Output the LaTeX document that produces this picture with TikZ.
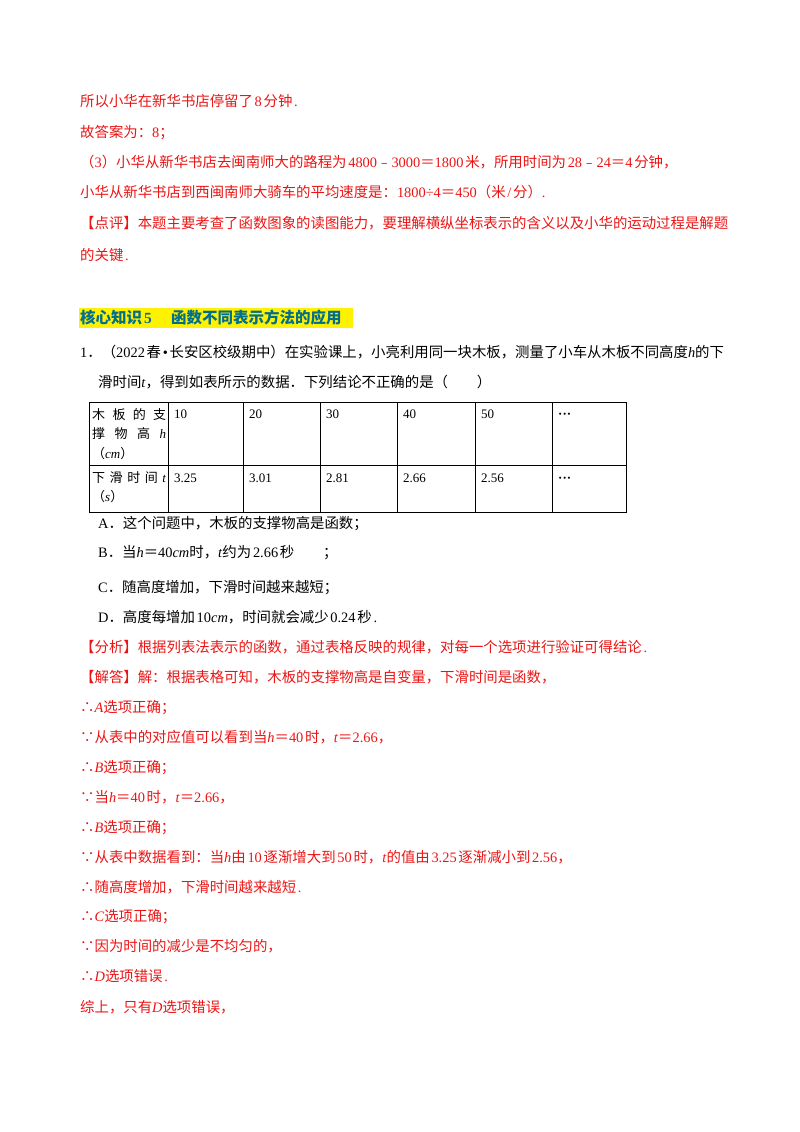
\documentclass[tikz,border=0pt]{standalone}
\usepackage{fontspec}
\setmainfont{Liberation Serif}
\newfontfamily\cjk{Noto Sans CJK SC}
\XeTeXinterchartokenstate=1
\newXeTeXintercharclass\CJKcls
\newXeTeXintercharclass\CJKp
\newcount\cc
\cc="4E00 \loop\ifnum\cc<"A000 \XeTeXcharclass\cc=\CJKcls \advance\cc 1 \repeat
\cc="3000 \loop\ifnum\cc<"3040 \XeTeXcharclass\cc=\CJKp \advance\cc 1 \repeat
\cc="FF00 \loop\ifnum\cc<"FF60 \XeTeXcharclass\cc=\CJKp \advance\cc 1 \repeat
\cc="FE30 \loop\ifnum\cc<"FE70 \XeTeXcharclass\cc=\CJKp \advance\cc 1 \repeat
\XeTeXcharclass"2234=\CJKp \XeTeXcharclass"2235=\CJKp
\XeTeXinterchartoks 0 \CJKcls = {\kern0.12em\begingroup\cjk}
\XeTeXinterchartoks 4095 \CJKcls = {\begingroup\cjk}
\XeTeXinterchartoks \CJKcls 0 = {\endgroup\kern0.12em}
\XeTeXinterchartoks \CJKcls 4095 = {\endgroup}
\XeTeXinterchartoks 0 \CJKp = {\begingroup\cjk}
\XeTeXinterchartoks 4095 \CJKp = {\begingroup\cjk}
\XeTeXinterchartoks \CJKp 0 = {\endgroup}
\XeTeXinterchartoks \CJKp 4095 = {\endgroup}
\XeTeXinterchartoks \CJKp \CJKcls = {\endgroup\begingroup\cjk}
\XeTeXinterchartoks \CJKcls \CJKp = {\endgroup\begingroup\cjk}
\definecolor{rd}{RGB}{235,20,20}
\definecolor{hd}{RGB}{0,110,140}
\begin{document}
\begin{tikzpicture}[x=1pt,y=-1pt,
  t/.style={anchor=base west,inner sep=0pt,font=\fontsize{14.4}{16}\selectfont},
  r/.style={t,text=rd},
  c/.style={anchor=base west,inner sep=0pt,font=\fontsize{13}{15}\selectfont}]
\useasboundingbox (0,0) rectangle (800,1132);
\node[r] (l1) at (80,106) {所以小华在新华书店停留了8分钟.};
\node[r] (l2) at (80,137) {故答案为：8；};
\node[r] (l3) at (80,167) {（3）小华从新华书店去闽南师大的路程为4800﹣3000＝1800米，所用时间为28﹣24＝4分钟，};
\node[r] (l4) at (80,197) {小华从新华书店到西闽南师大骑车的平均速度是：1800÷4＝450（米/分）.};
\node[r] (l5) at (80,228) {【点评】本题主要考查了函数图象的读图能力，要理解横纵坐标表示的含义以及小华的运动过程是解题};
\node[r] (l6) at (80,260) {的关键.};
\fill[yellow] (79,308) rectangle (353,328);
\node[t,text=hd,font=\fontsize{15.5}{17}\selectfont\bfseries] (hd) at (80,323) {核心知识5\quad\ 函数不同表示方法的应用};
\node[t] (q1) at (80,357) {1．（2022春•长安区校级期中）在实验课上，小亮利用同一块木板，测量了小车从木板不同高度\textit{h}的下};
\node[t] (q2) at (98,387) {滑时间\textit{t}，得到如表所示的数据．下列结论不正确的是（\qquad）};
% table
\draw[line width=0.9pt] (89,402) rectangle (626,512);
\draw[line width=0.9pt] (89,465) -- (626,465);
\foreach \x in {168,243,320,397,475,552} \draw[line width=0.9pt] (\x,402) -- (\x,512);
\node[c] (a1) at (92,419) {\makebox[74pt][s]{木\hfill 板\hfill 的\hfill 支}};
\node[c] (a2) at (92,438) {\makebox[74pt][s]{撑\hfill 物\hfill 高\hfill \textit{h}}};
\node[c] (a3) at (92,458) {（\textit{cm}）};
\node[c] (b1) at (92,482) {\makebox[74pt][s]{下\hfill 滑\hfill 时\hfill 间\hfill\textit{t}}};
\node[c] (b2) at (92,501) {（\textit{s}）};
\foreach \x/\a/\b in {174/10/3.25,249/20/3.01,326/30/2.81,403/40/2.66,481/50/2.56,558/\textbf{···}/\textbf{···}}{
  \node[c] at (\x,418) {\a}; \node[c] at (\x,482) {\b};}
\node[t] (oA) at (98,528) {A．这个问题中，木板的支撑物高是函数；};
\node[t] (oB) at (98,557) {B．当\textit{h}＝40\textit{cm}时，\textit{t}约为2.66秒\qquad ；};
\node[t] (oC) at (98,592) {C．随高度增加，下滑时间越来越短；};
\node[t] (oD) at (98,622) {D．高度每增加10\textit{cm}，时间就会减少0.24秒.};
\node[r] (f1) at (80,652) {【分析】根据列表法表示的函数，通过表格反映的规律，对每一个选项进行验证可得结论.};
\node[r] (f2) at (80,682) {【解答】解：根据表格可知，木板的支撑物高是自变量，下滑时间是函数，};
\node[r] (f3) at (80,712) {∴\textit{A}选项正确；};
\node[r] (f4) at (80,742) {∵从表中的对应值可以看到当\textit{h}＝40时，\textit{t}＝2.66，};
\node[r] (f5) at (80,772) {∴\textit{B}选项正确；};
\node[r] (f6) at (80,802) {∵当\textit{h}＝40时，\textit{t}＝2.66，};
\node[r] (f7) at (80,832) {∴\textit{B}选项正确；};
\node[r] (f8) at (80,862) {∵从表中数据看到：当\textit{h}由10逐渐增大到50时，\textit{t}的值由3.25逐渐减小到2.56，};
\node[r] (f9) at (80,892) {∴随高度增加，下滑时间越来越短.};
\node[r] (f10) at (80,921) {∴\textit{C}选项正确；};
\node[r] (f11) at (80,951) {∵因为时间的减少是不均匀的，};
\node[r] (f12) at (80,981) {∴\textit{D}选项错误.};
\node[r] (f13) at (80,1012) {综上，只有\textit{D}选项错误，};
\end{tikzpicture}
\end{document}
